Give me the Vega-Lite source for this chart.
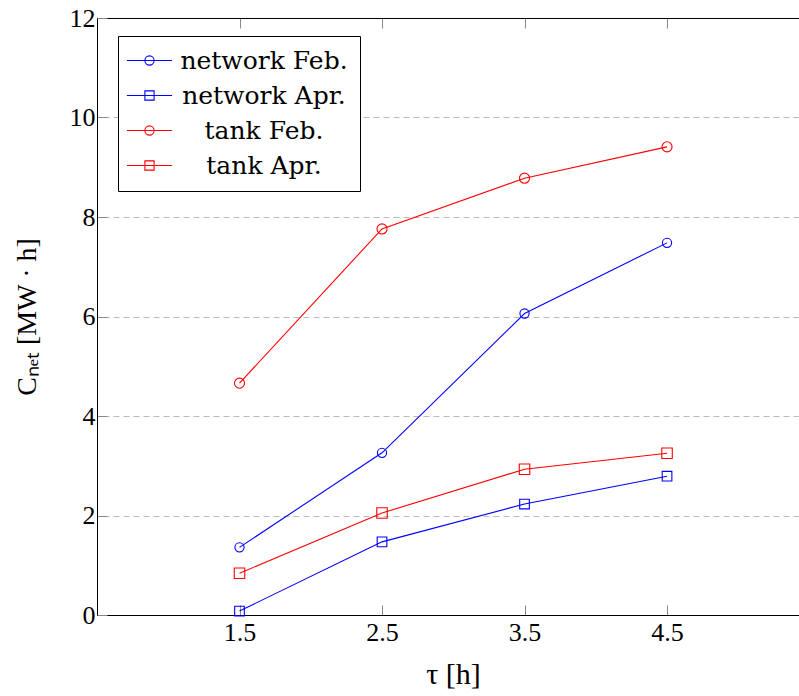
{
  "$schema": "https://vega.github.io/schema/vega-lite/v6.json",
  "autosize": "none",
  "width": 702,
  "height": 597,
  "padding": {"left": 97, "top": 18, "right": 0, "bottom": 81},
  "background": "white",
  "config": {"view": {"stroke": null}, "font": "Liberation Serif"},
  "data": {"values": [
    {"series": "network Feb.", "tau": 1.5, "value": 1.36},
    {"series": "network Feb.", "tau": 2.5, "value": 3.26},
    {"series": "network Feb.", "tau": 3.5, "value": 6.06},
    {"series": "network Feb.", "tau": 4.5, "value": 7.48},
    {"series": "network Apr.", "tau": 1.5, "value": 0.08},
    {"series": "network Apr.", "tau": 2.5, "value": 1.47},
    {"series": "network Apr.", "tau": 3.5, "value": 2.23},
    {"series": "network Apr.", "tau": 4.5, "value": 2.79},
    {"series": "tank Feb.", "tau": 1.5, "value": 4.66},
    {"series": "tank Feb.", "tau": 2.5, "value": 7.76},
    {"series": "tank Feb.", "tau": 3.5, "value": 8.78},
    {"series": "tank Feb.", "tau": 4.5, "value": 9.41},
    {"series": "tank Apr.", "tau": 1.5, "value": 0.84},
    {"series": "tank Apr.", "tau": 2.5, "value": 2.05},
    {"series": "tank Apr.", "tau": 3.5, "value": 2.93},
    {"series": "tank Apr.", "tau": 4.5, "value": 3.25}
  ]},
  "layer": [
    {
      "mark": {"type": "line", "strokeWidth": 1.1},
      "encoding": {
        "x": {"field": "tau", "type": "quantitative",
          "scale": {"domain": [0.5, 5.426], "nice": false, "zero": false},
          "axis": {"orient": "bottom", "values": [1.5, 2.5, 3.5, 4.5], "format": ".1f",
            "labelFont": "Liberation Serif", "labelFontSize": 26, "labelColor": "black",
            "tickColor": "#888", "tickSize": -10, "labelPadding": 14,
            "domainColor": "black", "domainWidth": 1, "grid": false,
            "title": "τ [h]", "titleFont": "Liberation Serif", "titleFontSize": 30,
            "titleFontWeight": "normal", "titleColor": "black", "titlePadding": 14, "titleX": 356}},
        "y": {"field": "value", "type": "quantitative",
          "scale": {"domain": [0, 12], "nice": false},
          "axis": {"orient": "left", "values": [0, 2, 4, 6, 8, 10, 12],
            "labelFont": "Liberation Serif", "labelFontSize": 26, "labelColor": "black",
            "tickColor": "#888", "tickSize": -10, "labelPadding": 12,
            "domainColor": "black", "domainWidth": 1, "grid": false,
            "title": "Cₙₑₜ [MW · h]", "titleFont": "Liberation Serif", "titleFontSize": 28,
            "titleFontWeight": "normal", "titleColor": "black", "titlePadding": 28}},
        "color": {"field": "series", "type": "nominal",
          "scale": {"domain": ["network Feb.", "network Apr.", "tank Feb.", "tank Apr."],
            "range": ["#0000ff", "#0000ff", "#ff0000", "#ff0000"]},
          "legend": null}
      }
    },
    {
      "mark": {"type": "point", "filled": false, "strokeWidth": 1.1, "opacity": 1},
      "encoding": {
        "x": {"field": "tau", "type": "quantitative", "axis": null},
        "y": {"field": "value", "type": "quantitative", "axis": null},
        "color": {"field": "series", "type": "nominal",
          "scale": {"domain": ["network Feb.", "network Apr.", "tank Feb.", "tank Apr."],
            "range": ["#0000ff", "#0000ff", "#ff0000", "#ff0000"]},
          "legend": null},
        "shape": {"field": "series", "type": "nominal",
          "scale": {"domain": ["network Feb.", "network Apr.", "tank Feb.", "tank Apr."],
            "range": ["circle", "square", "circle", "square"]},
          "legend": null},
        "size": {"field": "series", "type": "nominal",
          "scale": {"domain": ["network Feb.", "network Apr.", "tank Feb.", "tank Apr."],
            "range": [85, 110, 85, 110]},
          "legend": null}
      }
    },
    {
      "mark": {"type": "point", "filled": false, "strokeWidth": 1.1, "opacity": 0},
      "encoding": {
        "x": {"field": "tau", "type": "quantitative",
          "axis": {"orient": "top", "values": [1.5, 2.5, 3.5, 4.5], "labels": false,
            "tickColor": "#888", "tickSize": -10, "domainColor": "black", "domainWidth": 1,
            "grid": false, "title": null}},
        "y": {"field": "value", "type": "quantitative",
          "axis": {"orient": "right", "values": [2, 4, 6, 8, 10], "labels": false,
            "ticks": false, "domain": false, "grid": true, "gridDash": [6, 4],
            "gridColor": "#bbbbbb", "gridWidth": 1, "title": null}},
        "color": {"field": "series", "type": "nominal",
          "scale": {"domain": ["network Feb.", "network Apr.", "tank Feb.", "tank Apr."],
            "range": ["#0000ff", "#0000ff", "#ff0000", "#ff0000"]},
          "legend": {"orient": "none", "legendX": 21, "legendY": 18, "title": null,
            "labelFont": "DejaVu Serif", "labelFontSize": 25, "labelColor": "black",
            "labelAlign": "center", "labelOffset": 102, "labelLimit": 0, "symbolSize": 85,
            "symbolStrokeWidth": 1.1, "symbolOpacity": 1, "symbolOffset": 7,
            "rowPadding": 9, "padding": 12, "strokeColor": "black", "fillColor": "white"}},
        "shape": {"field": "series", "type": "nominal",
          "scale": {"domain": ["network Feb.", "network Apr.", "tank Feb.", "tank Apr."],
            "range": [
              "M-4.9,0H4.9M-1,0A1,1,0,1,1,1,0A1,1,0,1,1,-1,0",
              "M-4.9,0H4.9M-1,-1H1V1H-1Z",
              "M-4.9,0H4.9M-1,0A1,1,0,1,1,1,0A1,1,0,1,1,-1,0",
              "M-4.9,0H4.9M-1,-1H1V1H-1Z"]},
          "legend": {"orient": "none", "legendX": 21, "legendY": 18, "title": null,
            "labelFont": "DejaVu Serif", "labelFontSize": 25, "labelColor": "black",
            "labelAlign": "center", "labelOffset": 102, "labelLimit": 0, "symbolSize": 85,
            "symbolStrokeWidth": 1.1, "symbolOpacity": 1, "symbolOffset": 7,
            "rowPadding": 9, "padding": 12, "strokeColor": "black", "fillColor": "white"}}
      }
    }
  ],
  "resolve": {
    "scale": {"color": "independent", "shape": "independent", "size": "independent"},
    "axis": {"x": "independent", "y": "independent"}
  }
}
